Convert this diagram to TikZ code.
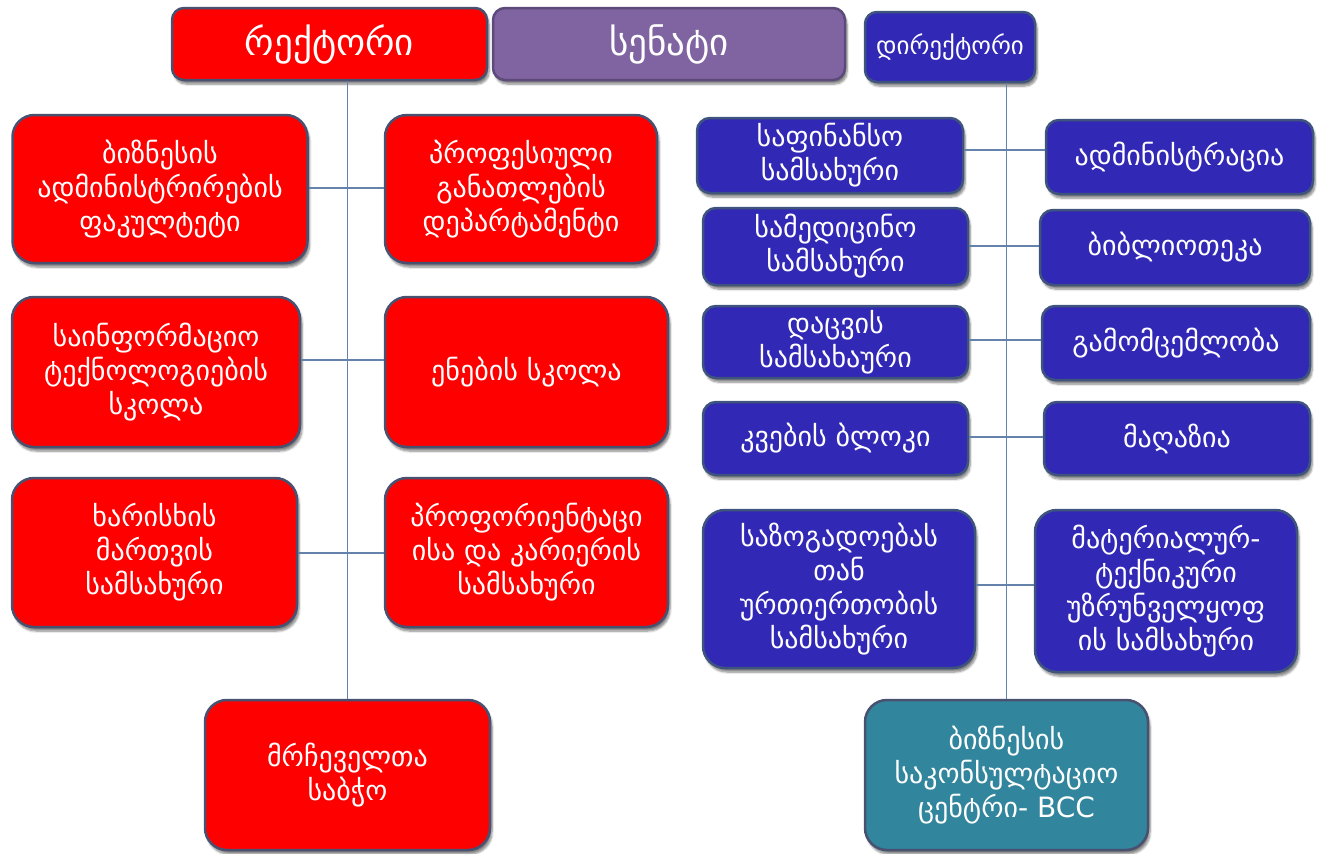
\documentclass[tikz,border=0pt]{standalone}
\usepackage{fontspec}
\setmainfont{DejaVu Sans}
\usetikzlibrary{shadows.blur}
\definecolor{boxred}{RGB}{255,0,0}
\definecolor{edgegray}{RGB}{72,82,112}
\definecolor{senpurple}{RGB}{128,100,162}
\definecolor{senedge}{RGB}{92,74,122}
\definecolor{dirblue}{RGB}{50,40,182}
\definecolor{blueedge}{RGB}{62,84,124}
\definecolor{bccteal}{RGB}{49,133,156}
\definecolor{linecol}{RGB}{100,130,170}
\begin{document}
\begin{tikzpicture}[x=1pt,y=-1pt,
  box/.style={draw=edgegray, line width=2.5pt, text=white, align=center, inner sep=0pt,
    blur shadow={shadow xshift=2pt,shadow yshift=-4pt,shadow blur steps=6,shadow opacity=50},
    font=\fontsize{28}{34}\selectfont},
  redbox/.style={box, fill=boxred, rounded corners=22pt},
  titlebox/.style={box, rounded corners=12pt, font=\fontsize{37}{40}\selectfont},
  bluebox/.style={box, fill=dirblue, draw=blueedge, rounded corners=13pt},
  bigblue/.style={box, fill=dirblue, draw=blueedge, rounded corners=22pt},
  conn/.style={draw=linecol, line width=1.2pt}]
\useasboundingbox (0,0) rectangle (1318,854);

% top row
\node[titlebox, fill=boxred, minimum width=315pt, minimum height=72pt] (rector) at (329.5,44) {რექტორი};
\node[titlebox, fill=senpurple, draw=senedge, minimum width=352pt, minimum height=72pt] (senate) at (669,44) {სენატი};
\node[titlebox, fill=dirblue, draw=blueedge, font=\fontsize{25}{30}\selectfont, minimum width=170pt, minimum height=70pt] (director) at (950,47) {დირექტორი};

% left column
\node[redbox, minimum width=295pt, minimum height=148pt] (biz) at (160,189) {ბიზნესის\\ადმინისტრირების\\ფაკულტეტი};
\node[redbox, minimum width=272pt, minimum height=148pt] (prof) at (521,189) {პროფესიული\\განათლების\\დეპარტამენტი};
\node[redbox, minimum width=288pt, minimum height=150pt] (it) at (156,372) {საინფორმაციო\\ტექნოლოგიების\\სკოლა};
\node[redbox, minimum width=283pt, minimum height=150pt] (lang) at (526.5,372) {ენების სკოლა};
\node[redbox, minimum width=285pt, minimum height=149pt] (qual) at (154.5,552.5) {ხარისხის\\მართვის\\სამსახური};
\node[redbox, minimum width=283pt, minimum height=149pt] (career) at (526.5,552.5) {პროფორიენტაცი\\ისა და კარიერის\\სამსახური};
\node[redbox, minimum width=285pt, minimum height=150pt] (council) at (347.5,775) {მრჩეველთა\\საბჭო};

% right column
\node[bluebox, minimum width=266pt, minimum height=75pt] (fin) at (830,155.5) {საფინანსო\\სამსახური};
\node[bluebox, minimum width=267pt, minimum height=74pt] (adm) at (1179.5,157) {ადმინისტრაცია};
\node[bluebox, minimum width=265pt, minimum height=77pt] (med) at (835.5,246.5) {სამედიცინო\\სამსახური};
\node[bluebox, minimum width=270pt, minimum height=75pt] (lib) at (1175,247.5) {ბიბლიოთეკა};
\node[bluebox, minimum width=265pt, minimum height=72pt] (sec) at (835.5,342) {დაცვის\\სამსახაური};
\node[bluebox, minimum width=268pt, minimum height=74pt] (pub) at (1176,343) {გამომცემლობა};
\node[bluebox, minimum width=265pt, minimum height=73pt] (food) at (835.5,438.5) {კვების ბლოკი};
\node[bluebox, minimum width=266pt, minimum height=73pt] (shop) at (1177,438.5) {მაღაზია};
\node[bigblue, minimum width=272pt, minimum height=158pt] (pr) at (839,589) {საზოგადოებას\\თან\\ურთიერთობის\\სამსახური};
\node[bigblue, minimum width=262pt, minimum height=162pt] (mat) at (1166,591) {მატერიალურ-\\ტექნიკური\\უზრუნველყოფ\\ის სამსახური};
\node[box, fill=bccteal, rounded corners=22pt, minimum width=283pt, minimum height=150pt] (bcc) at (1006.5,775) {ბიზნესის\\საკონსულტაციო\\ცენტრი- BCC};

% connector rows
\coordinate (l1) at (345,188);
\coordinate (l2) at (345,360);
\coordinate (l3) at (345,553);
\coordinate (r1) at (1003,150);
\coordinate (r2) at (1003,246);
\coordinate (r3) at (1003,340);
\coordinate (r4) at (1003,437);
\coordinate (r5) at (1003,585);

\draw[conn] (rector.south -| council.north) -- (council.north);
\draw[conn] (director.south -| bcc.north) -- (bcc.north);
\draw[conn] (biz.east |- l1) -- (prof.west |- l1);
\draw[conn] (it.east |- l2) -- (lang.west |- l2);
\draw[conn] (qual.east |- l3) -- (career.west |- l3);
\draw[conn] (fin.east |- r1) -- (adm.west |- r1);
\draw[conn] (med.east |- r2) -- (lib.west |- r2);
\draw[conn] (sec.east |- r3) -- (pub.west |- r3);
\draw[conn] (food.east |- r4) -- (shop.west |- r4);
\draw[conn] (pr.east |- r5) -- (mat.west |- r5);
\end{tikzpicture}
\end{document}
